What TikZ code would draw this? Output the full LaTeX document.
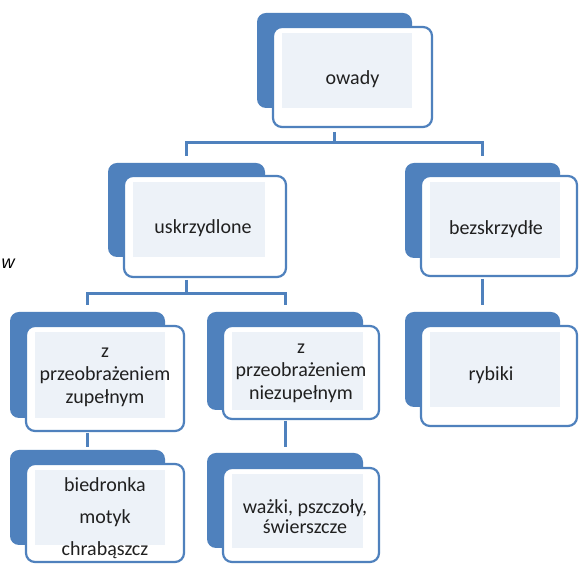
\documentclass[tikz,border=0pt]{standalone}
\usepackage{fontspec}
\setmainfont{Carlito}
\newfontfamily\wfont{Liberation Sans}
\usetikzlibrary{calc}
\definecolor{sablue}{RGB}{79,129,189}
\definecolor{panelc}{RGB}{237,242,248}
\definecolor{txtc}{RGB}{32,32,32}
\tikzset{
  backbox/.style={fill=sablue, rounded corners=9pt, inner sep=0pt, outer sep=0pt},
  frontbox/.style={fill=white, draw=sablue, line width=2.2pt, rounded corners=9pt, inner sep=0pt, outer sep=0pt},
  panel/.style={fill=panelc},
  txt/.style={text=txtc, align=center, inner sep=0pt, font=\fontsize{20}{24}\selectfont},
  conn/.style={draw=sablue, line width=3pt}
}
\newcommand{\cardbox}[9]{%
  % #1 name, #2 back cx, #3 back cy, #4 back w, #5 back h, #6 front cx, #7 front cy, #8 front w, #9 front h
  \node[backbox, minimum width=#4pt, minimum height=#5pt] (#1B) at (#2,#3) {};
  \node[frontbox, minimum width=#8pt, minimum height=#9pt] (#1F) at (#6,#7) {};
  \fill[panel] ($(#1F.north west)+(9pt,-6pt)$) rectangle (#1B.south east);
}
\begin{document}
\begin{tikzpicture}[x=1pt,y=1pt]
\useasboundingbox (0,0) rectangle (579,567);
\fill[white] (0,0) rectangle (579,567);

\coordinate (j1) at (334.5,424);
\coordinate (j2) at (186.5,273);

% cards
\cardbox{ow}{334.5}{506.5}{155}{95}{352.5}{490}{159}{100}
\cardbox{us}{186.5}{357}{157}{94}{205}{340.5}{162}{101}
\cardbox{bz}{482.5}{356.5}{155}{95}{499}{341}{156}{100}
\cardbox{zup}{87.5}{202}{155}{106}{105}{188.5}{158}{105}
\cardbox{niez}{285}{206}{156}{98}{301}{194.5}{156}{93}
\cardbox{ryb}{482.5}{207.5}{155}{95}{499}{191}{156}{100}
\cardbox{bied}{87.5}{69.5}{155}{95}{105}{54}{158}{98}
\cardbox{wazk}{285}{66.5}{156}{95}{301}{52}{156}{94}

% connectors
\draw[conn, shorten <=5pt] (owF.south -| owB.south) -- (j1);
\draw[conn, shorten <=7pt, shorten >=7pt] (usB.north) |- (j1) -| (bzB.north);
\draw[conn, shorten <=3pt] (usF.south -| usB.south) -- (j2);
\draw[conn, shorten <=7pt, shorten >=7pt] (zupB.north) |- (j2) -| (niezB.north);
\draw[conn, shorten <=3pt, shorten >=7pt] (bzF.south -| bzB.south) -- (rybB.north);
\draw[conn, shorten <=2pt, shorten >=3pt] (zupF.south -| zupB.south) -- (biedB.north);
\draw[conn, shorten <=2pt, shorten >=6pt] (niezF.south -| niezB.south) -- (wazkB.north);

% texts
\node[txt] (owT) at ($(owF.center)+(0,-2)$) {owady};
\node[txt] (usT) at ($(usF.center)+(-2,-2)$) {uskrzydlone};
\node[txt] (bzT) at ($(bzF.center)+(-3,-3)$) {bezskrzydłe};
\node[txt, font=\fontsize{20}{23}\selectfont] (zupT) at ($(zupF.center)+(0,1)$) {z\\przeobrażeniem\\zupełnym};
\node[txt, font=\fontsize{20}{23}\selectfont] (niezT) at ($(niezF.center)+(0,-1)$) {z\\przeobrażeniem\\niezupełnym};
\node[txt] (rybT) at ($(rybF.center)+(-8,1)$) {rybiki};
\node[txt, font=\fontsize{20}{32}\selectfont] (biedT) at ($(biedF.center)+(0,-5)$) {biedronka\\motyk\\chrabąszcz};
\node[txt, font=\fontsize{20}{20}\selectfont] (wazkT) at ($(wazkF.center)+(4,-2)$) {ważki, pszczoły,\\świerszcze};

\node[text=black, inner sep=0pt, font=\wfont\itshape\fontsize{18}{22}\selectfont] (wT) at (8,303) {w};
\end{tikzpicture}
\end{document}
